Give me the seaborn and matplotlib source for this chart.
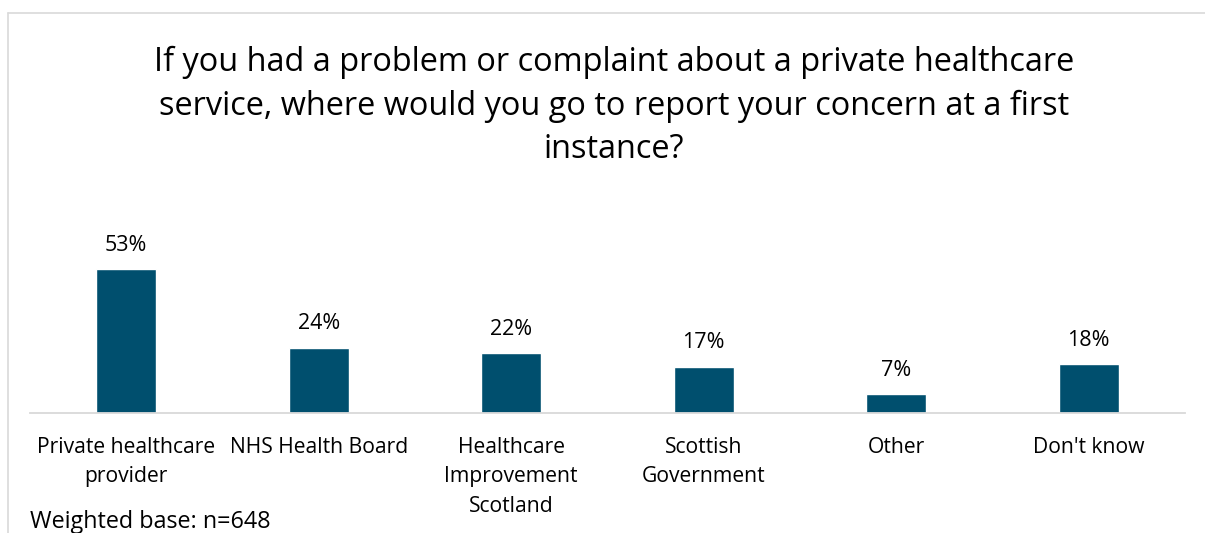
import numpy as np
import pandas as pd
import seaborn as sns
import matplotlib.pyplot as plt
from matplotlib.lines import Line2D

categories = ['Private healthcare\nprovider', 'NHS Health Board', 'Healthcare\nImprovement\nScotland',
              'Scottish\nGovernment', 'Other', "Don't know"]
values = [53, 24, 22, 17, 7, 18]
value_labels = ['53%', '24%', '22%', '17%', '7%', '18%']

title = ('If you had a problem or complaint about a private healthcare\n'
         'service, where would you go to report your concern at a first\n'
         'instance?')
base_note = 'Weighted base: n=648'

sns.set_style('white')
plt.rcParams['font.family'] = ['Open Sans', 'DejaVu Sans']

df = pd.DataFrame({'category': categories, 'value': values})

W, H = 1205, 533
fig = plt.figure(figsize=(W / 100, H / 100), dpi=100)
ax = fig.add_axes([30 / W, (H - 413) / H, 1155 / W, 163 / H])

sns.barplot(data=df, x='category', y='value', color='#004F6E', width=0.31,
            saturation=1, ax=ax)

ax.set_ylim(0, 60)
ax.set_xlim(-0.5, len(categories) - 0.5)
for i, (v, lab) in enumerate(zip(values, value_labels)):
    ax.text(i, v + 6.8, lab, ha='center', va='baseline', fontsize=15.5, color='#000000')

ax.set_yticks([])
ax.set_xlabel('')
ax.set_ylabel('')
for s in ['top', 'right', 'left']:
    ax.spines[s].set_visible(False)
ax.spines['bottom'].set_color('#d9d9d9')
ax.spines['bottom'].set_linewidth(1.3)
ax.tick_params(axis='x', length=0, pad=17, labelsize=15.2, colors='#000000')
for t in ax.get_xticklabels():
    t.set_linespacing(1.55)

fig.text(614 / W, 1 - 106 / H, title, ha='center', va='center', fontsize=23.4,
         linespacing=1.42, color='#000000')
fig.text(30 / W, 1 - 528 / H, base_note, ha='left', va='baseline',
         fontsize=16.8, color='#000000')

# outer frame (top and left edges visible)
fig.add_artist(Line2D([8 / W, 1.0], [1 - 13 / H, 1 - 13 / H], transform=fig.transFigure,
                      color='#d9d9d9', lw=1.2))
fig.add_artist(Line2D([8 / W, 8 / W], [1 - 13 / H, 0], transform=fig.transFigure,
                      color='#d9d9d9', lw=1.2))

fig.savefig('out.png', dpi=100)
